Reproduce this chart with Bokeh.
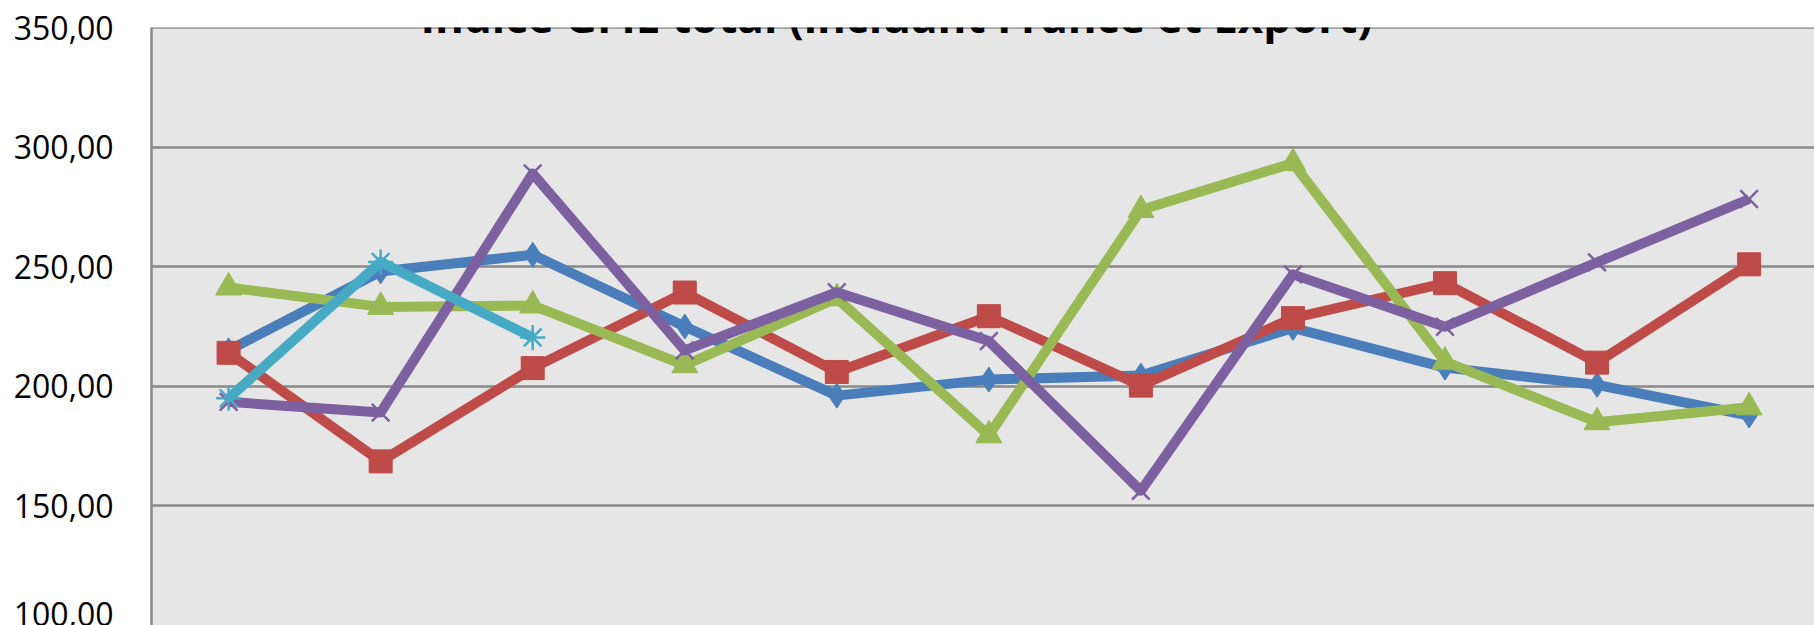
from bokeh.plotting import figure
from bokeh.models import FixedTicker, CustomJSTickFormatter, Label, Span, Range1d
from bokeh.embed import file_html
from bokeh.resources import INLINE

# ---- data ----
categories = list(range(11))
serie1 = [215.0, 248.0, 255.0, 225.0, 196.1, 202.8, 204.5, 224.4, 207.8, 200.6, 187.8]
serie2 = [214.0, 168.6, 207.6, 239.2, 206.0, 229.3, 200.3, 228.5, 243.1, 209.9, 251.0]
serie3 = [241.3, 233.2, 233.8, 208.8, 236.8, 179.5, 273.7, 293.3, 210.3, 185.0, 191.2]
serie4 = [193.5, 189.0, 289.0, 215.0, 239.3, 218.9, 156.3, 246.8, 224.9, 251.8, 278.3]
serie5 = [195.0, 252.0, 220.4]
y_ticks = [100, 150, 200, 250, 300, 350]
title_text = "Indice GFIE total (incluant France et Export)"

W, H = 1814, 625
LEFT = 151
FRAME_TOP = 27
x_start = -0.507
x_end = x_start + (W - LEFT) / 152.05

p = figure(width=W, height=H, output_backend="svg", toolbar_location=None,
           x_range=Range1d(x_start, x_end), y_range=Range1d(100, 350),
           min_border_left=LEFT, min_border_right=0, min_border_top=FRAME_TOP, min_border_bottom=0,
           background_fill_color="#e6e6e6", border_fill_color="white")
p.outline_line_color = None
p.xaxis.visible = False
p.xgrid.visible = False

grid_col = "#898989"
fmt = CustomJSTickFormatter(code="return tick.toFixed(2).replace('.', ',');")
p.yaxis.ticker = FixedTicker(ticks=y_ticks)
p.yaxis.formatter = fmt
p.yaxis.major_label_text_font = "Open Sans"
p.yaxis.major_label_text_font_size = "32px"
p.yaxis.major_label_text_color = "black"
p.yaxis.major_label_standoff = 38
p.yaxis.major_tick_out = 0
p.yaxis.major_tick_in = 0
p.yaxis.minor_tick_out = 0
p.yaxis.minor_tick_in = 0
p.yaxis.axis_line_color = grid_col
p.yaxis.axis_line_width = 2.5
p.ygrid.ticker = FixedTicker(ticks=y_ticks)
p.ygrid.grid_line_color = grid_col
p.ygrid.grid_line_width = 2.5
p.add_layout(Span(location=350, dimension="width", line_color=grid_col, line_width=2.5))

blue, red, green, purple, cyan = "#4a7ebb", "#be4b48", "#98b954", "#7d60a0", "#46aac5"
LW = 10

p.line(categories, serie1, line_color=blue, line_width=LW, line_join="round")
p.scatter(categories, serie1, marker="diamond", size=25, fill_color=blue, line_color=blue)

p.line(categories, serie2, line_color=red, line_width=LW, line_join="round")
p.scatter(categories, serie2, marker="square", size=23, fill_color=red, line_color=red)

p.line(categories, serie3, line_color=green, line_width=LW, line_join="round")
p.scatter(categories, serie3, marker="triangle", size=26, fill_color=green, line_color=green)

p.line(categories, serie4, line_color=purple, line_width=LW, line_join="round")
p.scatter(categories, serie4, marker="x", size=25, line_color=purple, line_width=2.5)

p.line(categories[:len(serie5)], serie5, line_color=cyan, line_width=LW, line_join="round")
p.scatter(categories[:len(serie5)], serie5, marker="asterisk", size=25, line_color=cyan, line_width=2.5)

# title, partly cut by the top edge as in the reference
p.add_layout(Label(x=4.392, y=355.0, text=title_text,
                   text_font="Open Sans", text_font_style="bold", text_font_size="44px",
                   text_color="black", text_align="center", text_baseline="alphabetic"))

open("out.html", "w").write(file_html(p, INLINE))
